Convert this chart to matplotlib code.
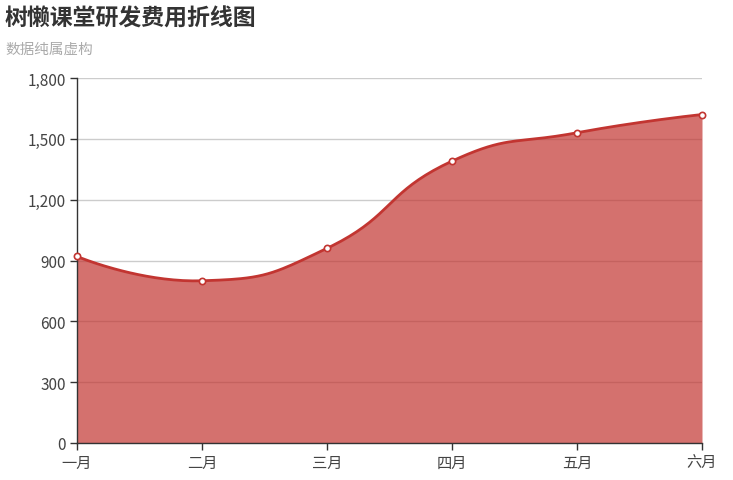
import numpy as np
import matplotlib
matplotlib.use("Agg")
import matplotlib.pyplot as plt

plt.rcParams['font.family'] = ['Noto Sans CJK SC', 'DejaVu Sans']

months = ['一月', '二月', '三月', '四月', '五月', '六月']
costs = [920, 800, 960, 1390, 1530, 1620]
y_ticks = [0, 300, 600, 900, 1200, 1500, 1800]

title = '树懒课堂研发费用折线图'
subtitle = '数据纯属虚构'

RED = '#c23531'

W, H = 733, 481
fig = plt.figure(figsize=(W / 100, H / 100), dpi=100)
ax = fig.add_axes([77 / W, (H - 444) / H, 625 / W, 365 / H])
ax.set_xlim(0, len(months) - 1)
ax.set_ylim(0, 1800)


def smooth_curve(xs, ys, smooth=0.5, n=40):
    # bezier smoothing in pixel space, end points keep their own control point
    pts = ax.transData.transform(np.column_stack([xs, ys]))
    cps = []
    for i in range(len(pts)):
        p = pts[i]
        if i == 0 or i == len(pts) - 1:
            cps.append((p, p))
            continue
        prev, nxt = pts[i - 1], pts[i + 1]
        v = (nxt - prev) * smooth
        d0 = np.hypot(*(p - prev))
        d1 = np.hypot(*(nxt - p))
        s = d0 + d1
        cps.append((p - v * d0 / s, p + v * d1 / s))
    out = [pts[0]]
    t = np.linspace(0, 1, n)[1:, None]
    for i in range(len(pts) - 1):
        p0, p3 = pts[i], pts[i + 1]
        c1, c2 = cps[i][1], cps[i + 1][0]
        seg = ((1 - t) ** 3) * p0 + 3 * ((1 - t) ** 2) * t * c1 + 3 * (1 - t) * t ** 2 * c2 + t ** 3 * p3
        out.extend(seg)
    out = np.array(out)
    data = ax.transData.inverted().transform(out)
    return data[:, 0], data[:, 1]


x = np.arange(len(months))
cx, cy = smooth_curve(x, costs)

ax.grid(axis='y', color='#cccccc', linewidth=1, zorder=0)
ax.set_axisbelow(True)
ax.fill_between(cx, 0, cy, color=RED, alpha=0.7, linewidth=0, zorder=2)
ax.plot(cx, cy, color=RED, linewidth=2, zorder=3, solid_capstyle='round')
ax.plot(x, costs, 'o', markersize=4.5, markerfacecolor='white',
        markeredgecolor=RED, markeredgewidth=1.2, zorder=4, clip_on=False)

ax.set_xticks(x)
ax.set_xticklabels(months)
ax.set_yticks(y_ticks)
ax.set_yticklabels([f'{v:,}' for v in y_ticks])
ax.tick_params(axis='both', length=5, width=1, color='#333333',
               labelcolor='#444444', labelsize=11, pad=3)

for side in ['top', 'right']:
    ax.spines[side].set_visible(False)
for side in ['left', 'bottom']:
    ax.spines[side].set_color('#333333')
    ax.spines[side].set_linewidth(1)

fig.text(5 / W, 1 - 19 / H, title, fontsize=16.5, fontweight='bold',
         color='#333333', va='center', ha='left')
fig.text(5 / W, 1 - 50 / H, subtitle, fontsize=10.5,
         color='#aaaaaa', va='center', ha='left')

fig.savefig('out.png', dpi=100)
